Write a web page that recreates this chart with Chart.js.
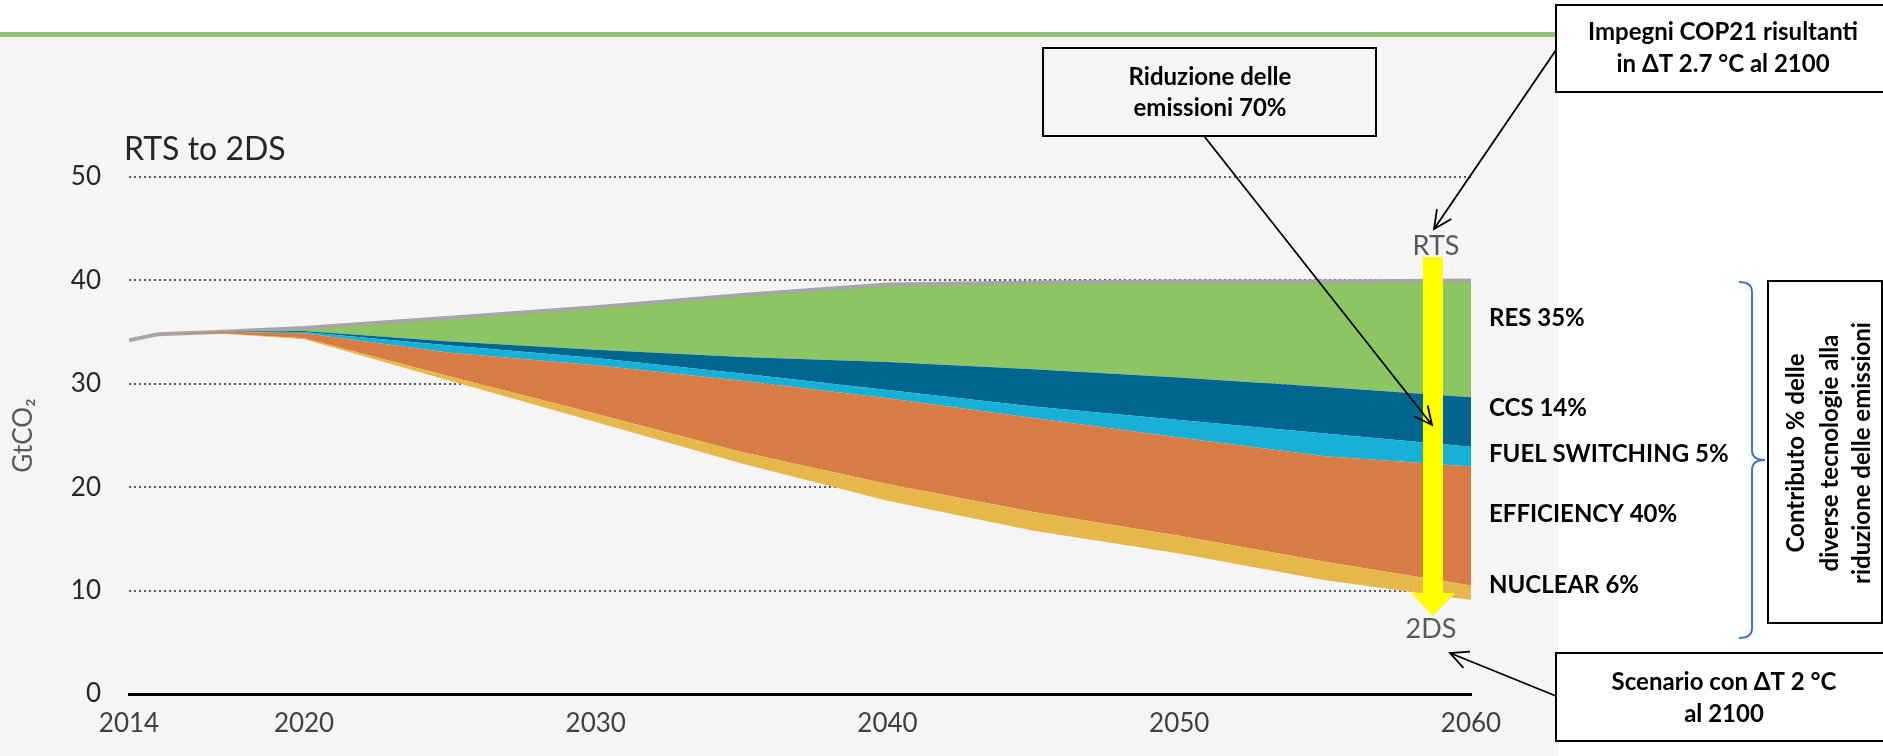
<!DOCTYPE html>
<html>
<head>
<meta charset="utf-8">
<script src="https://cdn.jsdelivr.net/npm/chart.js@4.4.0/dist/chart.umd.min.js"></script>
<style>
  html, body { margin: 0; padding: 0; background: #fff; overflow: hidden; }
  #wrap { width: 1883px; height: 756px; position: relative; }
</style>
</head>
<body>
<div id="wrap"><canvas id="chart"></canvas></div>
<script>
// RTS -> 2DS emission reductions by technology (GtCO2)
const years = [2014, 2015, 2017, 2020, 2025, 2030, 2035, 2040, 2045, 2050, 2055, 2060];
const tickYears = [2014, 2020, 2030, 2040, 2050, 2060];

const emissions2DS  = [34.2, 34.8, 34.9, 34.3, 30.3, 26.3, 22.3, 18.7, 15.8, 13.6, 11.0, 9.1];
const nuclear       = [0, 0, 0, 0.1, 0.4, 0.8, 1.1, 1.6, 1.8, 1.7, 1.8, 1.4];
const efficiency    = [0, 0, 0.1, 0.5, 2.3, 4.7, 6.9, 8.3, 9.1, 9.5, 10.2, 11.5];
const fuelSwitching = [0, 0, 0, 0.1, 0.7, 0.7, 0.7, 0.8, 1.1, 1.7, 2.2, 1.9];
const ccs           = [0, 0, 0, 0.1, 0.4, 0.8, 1.6, 2.7, 3.6, 4.1, 4.5, 4.8];
const res           = [0, 0, 0, 0.3, 2.3, 4.1, 6.0, 7.5, 8.4, 9.3, 10.2, 11.3];

const shareLabels = ["RES 35%", "CCS 14%", "FUEL SWITCHING 5%", "EFFICIENCY 40%", "NUCLEAR 6%"];

Chart.defaults.font.family = "Lato, 'Open Sans', sans-serif";

const pts = arr => arr.map((v, i) => ({ x: years[i], y: v }));

function layer(label, values, color, extra) {
  return Object.assign({
    label: label,
    data: pts(values),
    backgroundColor: color,
    borderWidth: 0,
    borderColor: color,
    fill: "-1",
    pointRadius: 0,
    tension: 0
  }, extra || {});
}

// open arrow helper
function arrow(ctx, x1, y1, x2, y2, head) {
  const a = Math.atan2(y2 - y1, x2 - x1);
  ctx.beginPath();
  ctx.moveTo(x1, y1);
  ctx.lineTo(x2, y2);
  ctx.moveTo(x2 - head * Math.cos(a - 0.45), y2 - head * Math.sin(a - 0.45));
  ctx.lineTo(x2, y2);
  ctx.lineTo(x2 - head * Math.cos(a + 0.45), y2 - head * Math.sin(a + 0.45));
  ctx.stroke();
}

const backdrop = {
  id: "backdrop",
  beforeDraw(chart) {
    const ctx = chart.ctx;
    ctx.save();
    ctx.fillStyle = "#fff";
    ctx.fillRect(0, 0, chart.width, chart.height);
    ctx.fillStyle = "#f5f5f5";
    ctx.fillRect(0, 37, 1558, chart.height - 37);
    ctx.fillStyle = "#94c17a";
    ctx.fillRect(0, 32, 1558, 5);
    // chart title
    ctx.fillStyle = "#262626";
    ctx.font = "32px Lato";
    ctx.textBaseline = "alphabetic";
    ctx.fillText("RTS to 2DS", 124, 160);
    ctx.restore();
  }
};

const notes = {
  id: "notes",
  afterDraw(chart) {
    const ctx = chart.ctx;
    ctx.save();
    ctx.textAlign = "center";
    ctx.textBaseline = "middle";

    // yellow reduction arrow RTS -> 2DS
    ctx.fillStyle = "#ffff00";
    ctx.fillRect(1423, 257, 20, 336);
    ctx.beginPath();
    ctx.moveTo(1411, 593);
    ctx.lineTo(1455, 593);
    ctx.lineTo(1433, 616);
    ctx.closePath();
    ctx.fill();

    ctx.fillStyle = "#595959";
    ctx.font = "27px Lato";
    ctx.fillText("RTS", 1436, 246);
    ctx.fillText("2DS", 1431, 629);

    // boxes
    ctx.strokeStyle = "#000";
    ctx.lineWidth = 2;
    ctx.fillStyle = "#fff";
    ctx.fillRect(1556, 5, 327, 87);
    ctx.strokeRect(1556, 5, 330, 87);
    ctx.fillRect(1556, 653, 327, 88);
    ctx.strokeRect(1556, 653, 330, 88);
    ctx.fillRect(1768, 281, 115, 342);
    ctx.strokeRect(1768, 281, 114, 342);
    ctx.strokeRect(1043, 48, 333, 88);

    ctx.fillStyle = "#000";
    ctx.font = "bold 24px Lato";
    ctx.fillText("Riduzione delle", 1210, 77);
    ctx.fillText("emissioni 70%", 1210, 108);
    ctx.fillText("Impegni COP21 risultanti", 1723, 32);
    ctx.fillText("in \u0394T 2.7 \u00b0C al 2100", 1723, 64);
    ctx.fillText("Scenario con \u0394T 2 \u00b0C", 1724, 682);
    ctx.fillText("al 2100", 1724, 714);

    // share labels
    ctx.textAlign = "left";
    const labelY = [318, 408, 454, 514, 585];
    shareLabels.forEach((t, i) => ctx.fillText(t, 1489, labelY[i]));

    // vertical box text
    ctx.save();
    ctx.translate(1830, 453);
    ctx.rotate(-Math.PI / 2);
    ctx.textAlign = "center";
    ctx.fillText("Contributo % delle", 0, -34);
    ctx.fillText("diverse tecnologie alla", 0, 0);
    ctx.fillText("riduzione delle emissioni", 0, 32);
    ctx.restore();

    // arrows
    ctx.lineWidth = 1.8;
    arrow(ctx, 1204, 136, 1432, 425, 20);
    arrow(ctx, 1556, 50, 1434, 229, 20);
    arrow(ctx, 1556, 696, 1450, 653, 20);

    // blue brace
    ctx.strokeStyle = "#4472c4";
    ctx.lineWidth = 2;
    ctx.beginPath();
    ctx.moveTo(1739, 282);
    ctx.quadraticCurveTo(1752, 282, 1752, 292);
    ctx.lineTo(1752, 450);
    ctx.quadraticCurveTo(1752, 460, 1765, 460);
    ctx.quadraticCurveTo(1752, 460, 1752, 470);
    ctx.lineTo(1752, 628);
    ctx.quadraticCurveTo(1752, 638, 1739, 638);
    ctx.stroke();

    ctx.restore();
  }
};

new Chart(document.getElementById("chart"), {
  type: "line",
  data: {
    datasets: [
      { label: "2DS", data: pts(emissions2DS), borderWidth: 0, borderColor: "transparent", fill: false, pointRadius: 0 },
      layer("Nuclear", nuclear, "#e6b84c"),
      layer("Efficiency", efficiency, "#d87c45"),
      layer("Fuel switching", fuelSwitching, "#17b0d6"),
      layer("CCS", ccs, "#00668f"),
      layer("RES", res, "#8dc563", { borderWidth: 4, borderColor: "#a6a6a6" })
    ]
  },
  options: {
    responsive: true,
    maintainAspectRatio: false,
    animation: false,
    layout: { padding: { left: 0, right: 412, top: 177, bottom: 0 } },
    plugins: {
      legend: { display: false },
      tooltip: { enabled: false },
      title: { display: false }
    },
    scales: {
      x: {
        type: "linear",
        min: 2014,
        max: 2060,
        afterBuildTicks: s => { s.ticks = tickYears.map(v => ({ value: v })); },
        afterFit: s => { s.height = 62; },
        grid: { display: false, drawTicks: false },
        border: { display: true, color: "#000", width: 3 },
        ticks: {
          autoSkip: false,
          maxRotation: 0,
          padding: 14,
          color: "#404040",
          font: { size: 26 },
          callback: v => String(v)
        }
      },
      y: {
        stacked: true,
        min: 0,
        max: 50,
        afterFit: s => { s.width = 129; },
        ticks: { stepSize: 10, padding: 28, color: "#262626", font: { size: 26 } },
        grid: {
          color: c => (c.tick && c.tick.value === 0 ? "transparent" : "#5a5a5a"),
          lineWidth: 2,
          drawTicks: false
        },
        border: { display: false, dash: [2, 3] },
        title: { display: true, text: "GtCO\u2082", color: "#595959", font: { size: 26 }, padding: { top: 8 } }
      }
    }
  },
  plugins: [backdrop, notes]
});
</script>
</body>
</html>
